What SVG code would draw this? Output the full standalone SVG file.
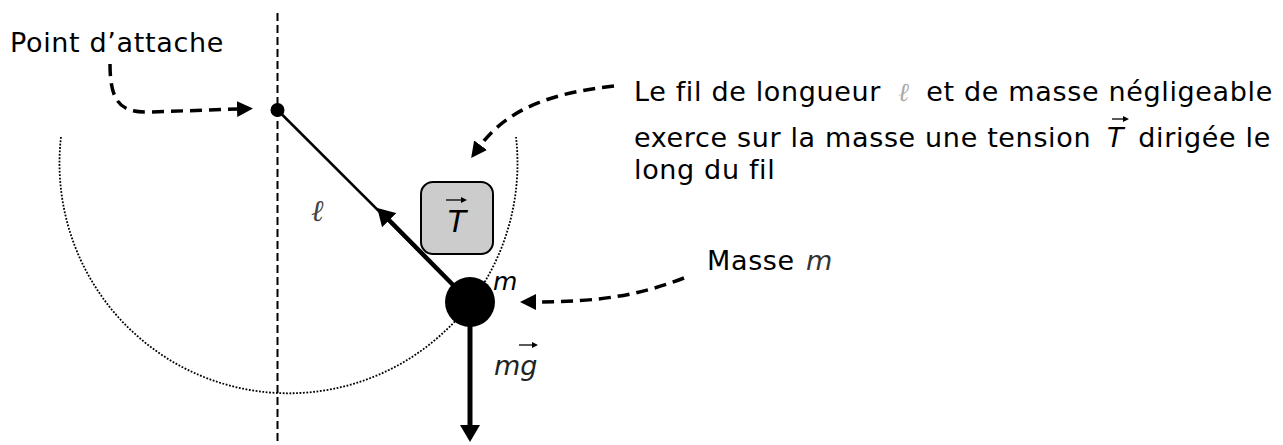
<svg xmlns="http://www.w3.org/2000/svg" width="1283" height="445" viewBox="0 0 1283 445">
<style>
text{font-family:"DejaVu Sans","Liberation Sans",sans-serif;fill:#000}
.lbl{font-size:27px;letter-spacing:0.65px}
.it{font-style:italic}
.dash{fill:none;stroke:#000;stroke-width:3.5;stroke-dasharray:12 7}
.axis{fill:none;stroke:#000;stroke-width:2;stroke-dasharray:8 4}
.dot{fill:none;stroke:#000;stroke-width:1.8;stroke-dasharray:1.8 1.6}
.vec{stroke:#000;stroke-width:1.3;fill:none}
</style>
<defs>
<marker id="ah" markerUnits="userSpaceOnUse" markerWidth="16" markerHeight="16" viewBox="0 0 16 16" refX="1" refY="8" orient="auto"><path d="M0,0 L16,8 L0,16 z" fill="#000"/></marker>
<marker id="ahBig" markerUnits="userSpaceOnUse" markerWidth="17" markerHeight="20" viewBox="0 0 17 20" refX="1" refY="10" orient="auto"><path d="M0,0 L17,10 L0,20 z" fill="#000"/></marker>
<marker id="ahS" markerUnits="userSpaceOnUse" markerWidth="6" markerHeight="6" viewBox="0 0 6 6" refX="1" refY="3" orient="auto"><path d="M0,0 L6,3 L0,6 z" fill="#000"/></marker>
</defs>
<rect width="1283" height="445" fill="#fff"/>

<g id="axis"><line class="axis" x1="277.5" y1="13" x2="277.5" y2="445"/></g>
<g id="trajectory"><path class="dot" d="M61,137 A229,230 0 1 0 516,137"/></g>

<g id="connectors">
<line x1="277.5" y1="110" x2="470" y2="302" stroke="#000" stroke-width="2.5"/>
<line x1="462" y1="294" x2="388.5" y2="219.5" stroke="#000" stroke-width="4.5" marker-end="url(#ahBig)"/>
<line x1="470" y1="302" x2="470" y2="426" stroke="#000" stroke-width="5" marker-end="url(#ahBig)"/>
<path class="dash" d="M110,64 C110,104 122,113 150,112 L238,109" marker-end="url(#ah)"/>
<path class="dash" d="M614,86 C560,92 510,105 480,146" marker-end="url(#ah)"/>
<path class="dash" d="M684,278 C640,295 600,302 535,302" marker-end="url(#ah)"/>
</g>

<g id="pivot"><circle cx="277.5" cy="110" r="7" fill="#000"/></g>
<g id="mass"><circle cx="470" cy="302" r="25" fill="#000"/>
<text x="493" y="290" class="it" font-size="25">m</text></g>

<g id="tension-box">
<rect x="421" y="182" width="72" height="72" rx="12" fill="#cccccc" stroke="#000" stroke-width="2"/>
<text x="457" y="232" class="it" font-size="30" text-anchor="middle">T</text>
<line class="vec" x1="446" y1="200" x2="462" y2="200" marker-end="url(#ahS)"/>
</g>

<g id="length-label"><text x="311" y="221" font-size="30" style="font-family:'Liberation Serif',serif;font-style:italic;fill:#444">ℓ</text></g>

<g id="weight-label">
<text x="494" y="375" class="it" font-size="27" style="fill:#222">mg</text>
<line class="vec" x1="519" y1="345" x2="533" y2="345" marker-end="url(#ahS)"/>
</g>

<g id="label-attache"><text class="lbl" x="10" y="52">Point d’attache</text></g>

<g id="label-fil">
<text class="lbl" x="634" y="101">Le fil de longueur</text>
<text x="898" y="101" font-size="26" class="it" style="fill:#aaa;font-family:'Liberation Serif',serif">ℓ</text>
<text class="lbl" x="1273" y="101" text-anchor="end">et de masse négligeable</text>
<text class="lbl" x="634" y="147">exerce sur la masse une tension</text>
<text x="1107" y="147" class="it" font-size="27">T</text>
<line class="vec" x1="1112" y1="119" x2="1124" y2="119" marker-end="url(#ahS)"/>
<text class="lbl" x="1271" y="147" text-anchor="end">dirigée le</text>
<text class="lbl" x="634" y="179">long du fil</text>
</g>

<g id="label-masse">
<text class="lbl" x="707" y="270">Masse</text>
<text x="806" y="270" class="it" font-size="27" style="fill:#333">m</text>
</g>
</svg>
